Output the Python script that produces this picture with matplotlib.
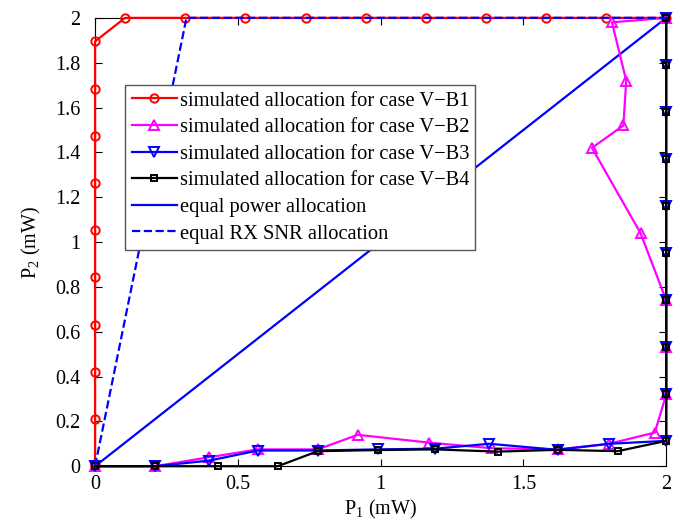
import matplotlib
matplotlib.use("Agg")
import matplotlib.pyplot as plt

# ---- data ----
# case V-B1: up the P1=0 edge, then along the P2=2 edge
b1_p1 = [0, 0, 0, 0, 0, 0, 0, 0, 0, 0, 0,
         0.105, 0.316, 0.526, 0.737, 0.947, 1.158, 1.368, 1.579, 1.789, 2.0]
b1_p2 = [0, 0.01, 0.211, 0.421, 0.632, 0.842, 1.053, 1.263, 1.474, 1.684, 1.895,
         2, 2, 2, 2, 2, 2, 2, 2, 2, 2]

# case V-B2
b2_p1 = [0, 0.21, 0.40, 0.57, 0.78, 0.92, 1.17, 1.39, 1.62, 1.80, 1.96,
         2.0, 2.0, 2.0, 1.91, 1.74, 1.85, 1.86, 1.81, 2.0]
b2_p2 = [0, 0, 0.04, 0.075, 0.075, 0.14, 0.105, 0.08, 0.075, 0.10, 0.15,
         0.32, 0.53, 0.74, 1.04, 1.42, 1.52, 1.72, 1.98, 2.0]

# case V-B3
b3_p1 = [0, 0.21, 0.40, 0.57, 0.78, 0.99, 1.19, 1.38, 1.62, 1.80, 2.0,
         2.0, 2.0, 2.0, 2.0, 2.0, 2.0, 2.0, 2.0, 2.0]
b3_p2 = [0, 0, 0.025, 0.07, 0.07, 0.075, 0.078, 0.10, 0.073, 0.10, 0.113,
         0.32, 0.53, 0.74, 0.95, 1.16, 1.37, 1.58, 1.79, 2.0]

# case V-B4
b4_p1 = [0, 0.21, 0.43, 0.64, 0.78, 0.99, 1.19, 1.41, 1.62, 1.83, 2.0,
         2.0, 2.0, 2.0, 2.0, 2.0, 2.0, 2.0, 2.0, 2.0]
b4_p2 = [0, 0, 0, 0, 0.067, 0.072, 0.075, 0.065, 0.073, 0.067, 0.113,
         0.32, 0.53, 0.74, 0.95, 1.16, 1.37, 1.58, 1.79, 2.0]

eqp_p1 = [0, 2]
eqp_p2 = [0, 2]
eqsnr_p1 = [0, 0.32, 2]
eqsnr_p2 = [0, 2, 2]

labels = [
    "simulated allocation for case V\u2212B1",
    "simulated allocation for case V\u2212B2",
    "simulated allocation for case V\u2212B3",
    "simulated allocation for case V\u2212B4",
    "equal power allocation",
    "equal RX SNR allocation",
]

plt.rcParams["font.family"] = ["Liberation Serif", "DejaVu Serif"]
plt.rcParams["mathtext.fontset"] = "custom"
plt.rcParams["mathtext.rm"] = "Liberation Serif"

fig = plt.figure(figsize=(6.84, 5.25), dpi=100)
ax = fig.add_axes([0.139, 0.112, 0.835, 0.854])

lw = 1.6
common = dict(lw=lw, mfc="none", mew=1.4, clip_on=False, zorder=3)
ax.plot(b1_p1, b1_p2, "-o", color="#ff0000", ms=6, label=labels[0], **common)
ax.plot(b2_p1, b2_p2, "-^", color="#ff00ff", ms=7, label=labels[1], **common)
ax.plot(b3_p1, b3_p2, "-v", color="#0000ff", ms=7, label=labels[2], **common)
ax.plot(b4_p1, b4_p2, "-s", color="black", ms=5, label=labels[3], **common)
ax.plot(eqp_p1, eqp_p2, "-", color="#0000ff", lw=lw, label=labels[4])
ax.plot(eqsnr_p1, eqsnr_p2, "--", color="#0000ff", lw=lw, clip_on=False,
        zorder=3, label=labels[5])

ax.set_xlim(0, 2)
ax.set_ylim(0, 2)
ax.set_xticks([0, 0.5, 1, 1.5, 2])
ax.set_xticklabels(["0", "0.5", "1", "1.5", "2"])
yt = [round(0.2 * i, 1) for i in range(11)]
ax.set_yticks(yt)
ax.set_yticklabels(["0" if v == 0 else ("%g" % v) for v in yt])
ax.tick_params(direction="in", top=True, right=True, labelsize=14.5, length=5)
ax.tick_params(axis="x", pad=6.5)
ax.tick_params(axis="y", pad=10.5)
ax.set_xlabel("P$_1$ (mW)", fontsize=14.5, labelpad=3)
ax.set_ylabel("P$_2$ (mW)", fontsize=14.5, labelpad=9)

ax.legend(loc="upper left", bbox_to_anchor=(0.053, 0.85), fontsize=14.8,
          frameon=True, fancybox=False, edgecolor="#555555", framealpha=1,
          handlelength=2.2, handletextpad=0.15, borderaxespad=0,
          borderpad=0.3, labelspacing=0.35)

fig.savefig("out.png", dpi=100)
